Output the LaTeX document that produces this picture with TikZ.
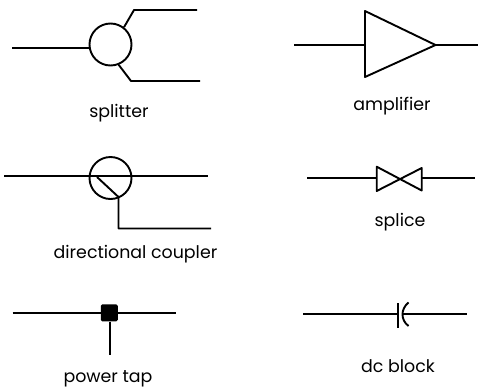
\documentclass[tikz,border=0pt]{standalone}
\usepackage{fontspec}
\setmainfont{Poppins}
\usetikzlibrary{calc}
\tikzset{
  wire/.style={line width=1.9pt,line join=round,black},
  ring/.style={circle,draw,line width=1.9pt,minimum size=42pt,inner sep=0pt,fill=none},
  tapbox/.style={rectangle,rounded corners=1.5pt,fill=black,minimum size=17pt,inner sep=0pt},
  caption/.style={font=\fontsize{17.4}{20}\selectfont,inner sep=0pt,anchor=center}
}
\begin{document}
\begin{tikzpicture}[x=1pt,y=-1pt]
\useasboundingbox (0,0) rectangle (478,391);
% splitter
\node[ring] (sc) at (110.5,44.5) {};
\coordinate (sin) at (12,48);
\coordinate (su) at (134,10);
\coordinate (sue) at (197,10);
\coordinate (sl) at (131,81);
\coordinate (sle) at (200,81);
\draw[wire] (sin) -- (89,48);
\draw[wire] (sc.52) -- (su) -- (sue);
\draw[wire] (sc.-68) -- (sl) -- (sle);
\node[caption] (slabel) at (119,113) {splitter};
% directional coupler
\node[ring] (dc) at (110.5,178) {};
\coordinate (dl) at (4,176);
\coordinate (dr) at (208,176);
\coordinate (dd1) at (97,177);
\coordinate (dd2) at (118.5,197);
\coordinate (dk) at (118.5,228.5);
\coordinate (de) at (211,228.5);
\draw[wire] (dl) -- (dr);
\draw[wire] (dd1) -- (dd2) -- (dk) -- (de);
\node[caption] (dlabel) at (135.5,254) {directional coupler};
% power tap
\node[tapbox] (pt) at (109.3,312.8) {};
\coordinate (pl) at (12.5,312.8);
\coordinate (pr) at (176,312.8);
\coordinate (pd) at (109.8,355);
\draw[wire] (pl) -- (pt) -- (pr);
\draw[wire] (pt.south -| pd) -- (pd);
\node[caption] (plabel) at (108,379) {power tap};
% amplifier
\coordinate (a1) at (365,11);
\coordinate (a2) at (365,77);
\coordinate (a3) at (435.5,45);
\coordinate (al) at (294,45);
\coordinate (ar) at (478,45);
\coordinate (ai) at (365,45);
\draw[wire] (a1) -- (a3) -- (a2) -- cycle;
\draw[wire] (al) -- (ai);
\draw[wire] (a3) -- (ar);
\node[caption] (alabel) at (392,106) {amplifier};
% splice
\coordinate (b1) at (376.7,166.7);
\coordinate (b2) at (376.7,191);
\coordinate (b3) at (421.7,168);
\coordinate (b4) at (421.7,190.5);
\coordinate (bl) at (307,178.3);
\coordinate (br) at (475,178.3);
\coordinate (bi) at (376.7,178.3);
\coordinate (bo) at (421.7,178.3);
\draw[wire] (b1) -- (b4) -- (b3) -- (b2) -- cycle;
\draw[wire] (bl) -- (bi);
\draw[wire] (bo) -- (br);
\node[caption] (blabel) at (400,222) {splice};
% dc block
\coordinate (c1) at (398,303);
\coordinate (c2) at (398,327.5);
\coordinate (cl) at (303,314);
\coordinate (cp) at (398,314);
\coordinate (ct) at (408.5,302.5);
\coordinate (cb) at (408.5,326);
\coordinate (cm) at (402.5,314.3);
\coordinate (cr) at (467,314.3);
\draw[wire] (cl) -- (cp);
\draw[wire] (c1) -- (c2);
\draw[wire] (ct) .. controls (400.5,309) and (400.5,320) .. (cb);
\draw[wire] (cm) -- (cr);
\node[caption] (clabel) at (398,366) {dc block};
\end{tikzpicture}
\end{document}
